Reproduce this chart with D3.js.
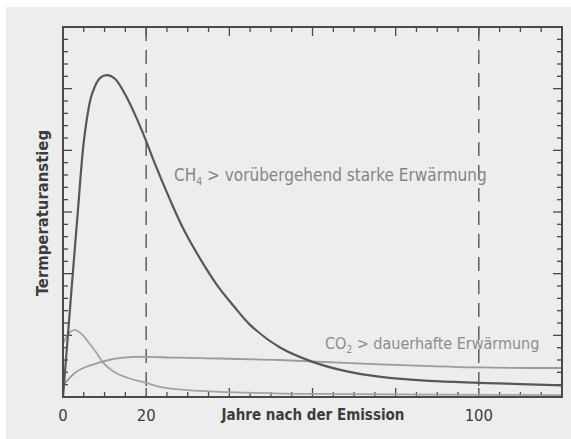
<!DOCTYPE html>
<html>
<head>
<meta charset="utf-8">
<script src="https://cdn.jsdelivr.net/npm/d3@7"></script>
<style>
  body { margin: 0; background: #fff; }
  text { font-family: "Liberation Sans Narrow", "DejaVu Sans Condensed", "Arial Narrow", sans-serif; }
</style>
</head>
<body>
<svg id="chart"></svg>
<script>
// values (years after emission -> relative warming)
var ch4Years  = [0, 1, 2, 3.5, 5.2, 7, 9, 10.7, 12.5, 15, 17.9, 20, 22, 25.6, 29, 33, 37, 41, 45, 52, 60, 68, 76, 88, 100, 110, 120];
var ch4Values = [0, 0.85, 1.7, 2.95, 4.25, 4.92, 5.18, 5.22, 5.16, 4.9, 4.49, 4.15, 3.8, 3.22, 2.72, 2.24, 1.82, 1.48, 1.17, 0.81, 0.57, 0.42, 0.33, 0.26, 0.23, 0.21, 0.19];

var co2Years  = [0, 1.5, 3.2, 6, 8.8, 11, 13.6, 17, 20, 26, 33, 52, 76, 100, 120];
var co2Values = [0.19, 0.3, 0.41, 0.5, 0.56, 0.6, 0.63, 0.65, 0.65, 0.64, 0.63, 0.6, 0.53, 0.48, 0.47];

var shortYears  = [0, 1, 2.8, 4.5, 6, 8, 9.5, 11, 13, 16, 20, 23, 30, 40, 60, 90, 120];
var shortValues = [0.85, 1.0, 1.09, 1.02, 0.9, 0.72, 0.57, 0.47, 0.38, 0.3, 0.23, 0.17, 0.11, 0.08, 0.05, 0.04, 0.03];

var xTickLabels = [0, 20, 100];
var markerYears = [20, 100];

var width = 571, height = 439;
var margin = {left: 63, right: 9, top: 27, bottom: 42};

var svg = d3.select("#chart")
    .attr("width", width)
    .attr("height", height);

// white edge + gray panel
svg.append("rect").attr("width", width).attr("height", height).attr("fill", "#fff");
svg.append("rect").attr("x", 6).attr("y", 7).attr("width", width - 6).attr("height", height - 7).attr("fill", "#ededed");

var x = d3.scaleLinear().domain([0, 120]).range([margin.left, width - margin.right]);
var y = d3.scaleLinear().domain([0, 6]).range([height - margin.bottom, margin.top]);

var frameColor = "#4a4a4a";

// inward ticks on all four sides
var xMinor = d3.range(0, 121, 5);
var yMinor = d3.range(0, 6.01, 0.2).map(function(v) { return Math.round(v * 10) / 10; });

function tickLen(v, major) { return Math.abs(v % major) < 1e-6 ? 9 : 5; }

var ticks = svg.append("g").attr("stroke", frameColor).attr("stroke-width", 1.3);
xMinor.forEach(function(v) {
    var l = tickLen(v, 20);
    ticks.append("line").attr("x1", x(v)).attr("x2", x(v)).attr("y1", y(0)).attr("y2", y(0) - l);
    ticks.append("line").attr("x1", x(v)).attr("x2", x(v)).attr("y1", y(6)).attr("y2", y(6) + l);
});
yMinor.forEach(function(v) {
    var l = tickLen(Math.round(v * 10), 10);
    ticks.append("line").attr("x1", x(0)).attr("x2", x(0) + l).attr("y1", y(v)).attr("y2", y(v));
    ticks.append("line").attr("x1", x(120)).attr("x2", x(120) - l).attr("y1", y(v)).attr("y2", y(v));
});

// dashed markers at 20 and 100 years
svg.selectAll(".marker")
    .data(markerYears)
    .enter().append("line")
    .attr("class", "marker")
    .attr("x1", function(d) { return x(d); })
    .attr("x2", function(d) { return x(d); })
    .attr("y1", y(6))
    .attr("y2", y(0))
    .attr("stroke", "#555")
    .attr("stroke-width", 1.4)
    .attr("stroke-dasharray", "14,9");

var line = d3.line()
    .x(function(d) { return x(d[0]); })
    .y(function(d) { return y(d[1]); })
    .curve(d3.curveCatmullRom.alpha(0.5));

function pairs(xs, ys) { return xs.map(function(v, i) { return [v, ys[i]]; }); }

svg.append("path").datum(pairs(shortYears, shortValues))
    .attr("d", line).attr("fill", "none").attr("stroke", "#a3a3a3").attr("stroke-width", 1.8);
svg.append("path").datum(pairs(co2Years, co2Values))
    .attr("d", line).attr("fill", "none").attr("stroke", "#9c9c9c").attr("stroke-width", 1.8);
svg.append("path").datum(pairs(ch4Years, ch4Values))
    .attr("d", line).attr("fill", "none").attr("stroke", "#575757").attr("stroke-width", 2.2);

// frame
svg.append("rect")
    .attr("x", x(0)).attr("y", y(6))
    .attr("width", x(120) - x(0)).attr("height", y(0) - y(6))
    .attr("fill", "none").attr("stroke", frameColor).attr("stroke-width", 2);

// x tick labels
svg.selectAll(".xlab")
    .data(xTickLabels)
    .enter().append("text")
    .attr("x", function(d) { return x(d); })
    .attr("y", 421)
    .attr("text-anchor", "middle")
    .attr("fill", "#3c3c3c")
    .style("font-size", "16.5px")
    .text(function(d) { return d; });

svg.append("text")
    .attr("x", 313).attr("y", 420)
    .attr("text-anchor", "middle")
    .attr("fill", "#3c3c3c")
    .style("font-size", "15px")
    .style("font-weight", "bold")
    .text("Jahre nach der Emission");

svg.append("text")
    .attr("transform", "translate(48,213) rotate(-90)")
    .attr("text-anchor", "middle")
    .attr("fill", "#3c3c3c")
    .style("font-size", "16.5px")
    .style("font-weight", "bold")
    .text("Termperaturanstieg");

// series labels
var ch4Label = svg.append("text")
    .attr("x", 174).attr("y", 181)
    .attr("fill", "#858585")
    .style("font-size", "17px");
ch4Label.append("tspan").text("CH");
ch4Label.append("tspan").attr("dy", 4).style("font-size", "10.5px").text("4");
ch4Label.append("tspan").attr("dy", -4).text(" > vorübergehend starke Erwärmung");

var co2Label = svg.append("text")
    .attr("x", 325).attr("y", 349)
    .attr("fill", "#8c8c8c")
    .style("font-size", "16px");
co2Label.append("tspan").text("CO");
co2Label.append("tspan").attr("dy", 4).style("font-size", "10px").text("2");
co2Label.append("tspan").attr("dy", -4).text(" > dauerhafte Erwärmung");
</script>
</body>
</html>
